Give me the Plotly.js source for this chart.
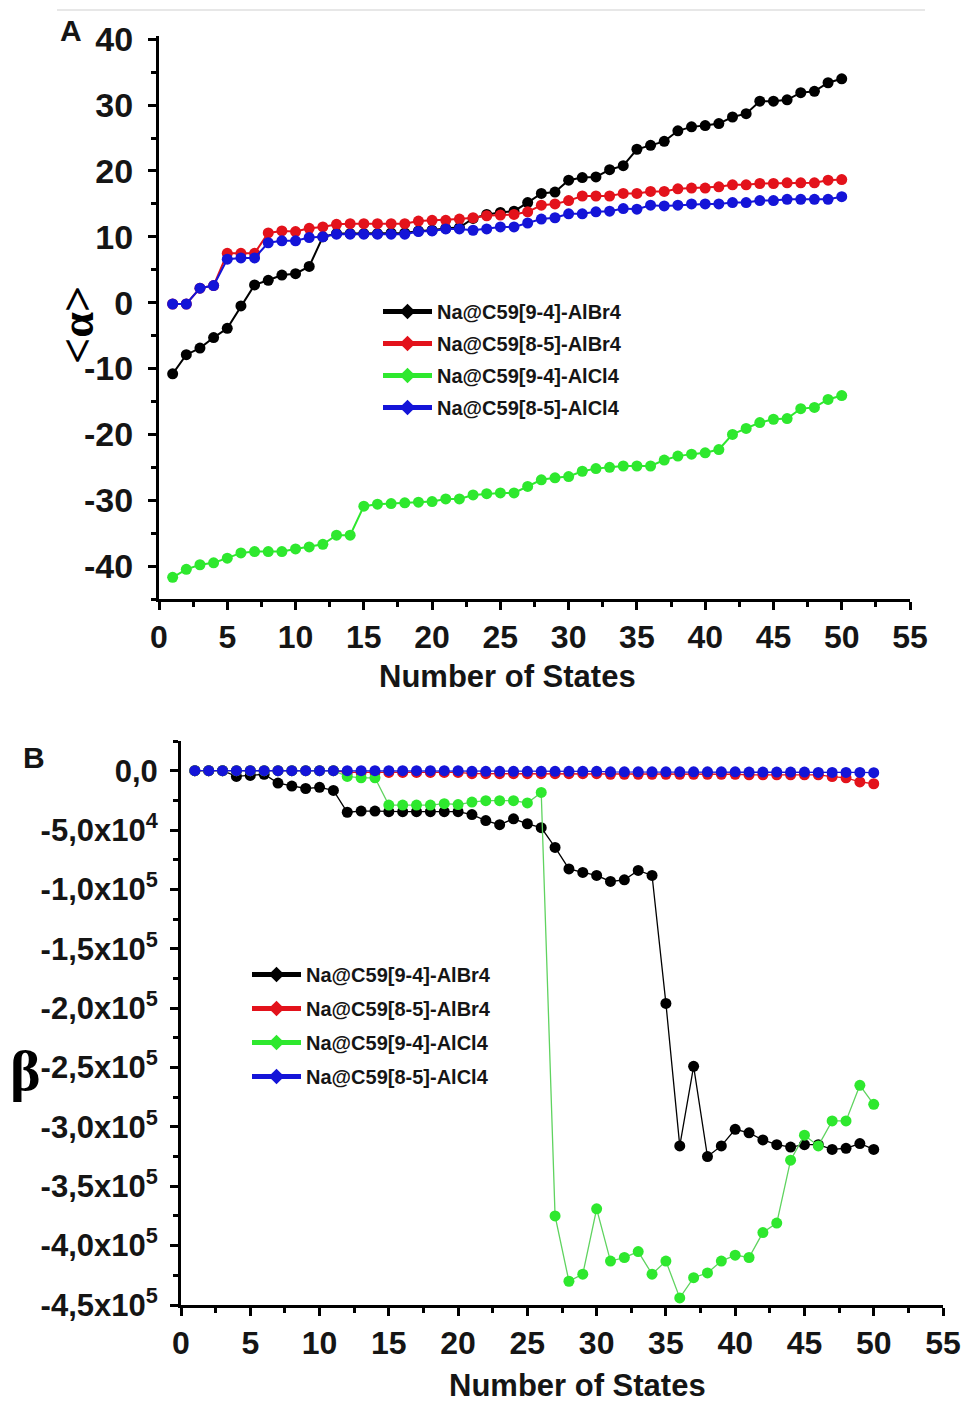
<!DOCTYPE html>
<html>
<head>
<meta charset="utf-8">
<script src="https://cdn.plot.ly/plotly-3.0.1.min.js"></script>
<style>html,body{margin:0;padding:0;background:#fff;}#chart{width:966px;height:1407px;}</style>
</head>
<body>
<div id="chart"></div>
<script>
// ---------- data ----------
const states = Array.from({length: 50}, (_, i) => i + 1);
const seriesNames = ["Na@C59[9-4]-AlBr4", "Na@C59[8-5]-AlBr4", "Na@C59[9-4]-AlCl4", "Na@C59[8-5]-AlCl4"];

// Panel A: <alpha>
const alphaBr94 = [-10.8,-7.9,-6.9,-5.3,-3.9,-0.5,2.7,3.4,4.2,4.4,5.5,10.0,10.5,10.5,10.5,10.5,10.6,10.6,10.9,11.0,11.3,11.4,12.8,13.4,13.7,13.9,15.2,16.6,16.8,18.6,19.0,19.1,20.2,20.8,23.3,23.9,24.5,26.1,26.7,26.9,27.2,28.2,28.7,30.6,30.6,30.8,31.9,32.1,33.4,34.0];
const alphaBr85 = [-0.2,-0.2,2.2,2.6,7.5,7.5,7.5,10.6,10.9,10.8,11.3,11.5,11.9,12.0,12.0,12.0,12.0,12.0,12.4,12.5,12.5,12.7,12.9,13.2,13.3,13.4,13.8,14.8,15.0,15.5,16.2,16.2,16.2,16.6,16.6,16.9,16.9,17.3,17.4,17.4,17.6,17.9,17.9,18.1,18.1,18.2,18.2,18.2,18.6,18.7];
const alphaCl94 = [-41.7,-40.5,-39.8,-39.5,-38.8,-38.0,-37.8,-37.8,-37.8,-37.4,-37.1,-36.7,-35.3,-35.3,-30.9,-30.6,-30.5,-30.4,-30.3,-30.2,-29.8,-29.8,-29.2,-29.0,-28.9,-28.9,-27.9,-26.9,-26.6,-26.4,-25.6,-25.2,-25.0,-24.8,-24.8,-24.8,-23.9,-23.3,-23.0,-22.8,-22.3,-20.0,-19.1,-18.2,-17.7,-17.6,-16.1,-15.9,-14.7,-14.1];
const alphaCl85 = [-0.2,-0.2,2.2,2.6,6.6,6.8,6.8,9.1,9.4,9.4,9.9,10.0,10.4,10.4,10.4,10.4,10.4,10.4,10.8,10.9,11.2,11.2,11.0,11.2,11.5,11.5,12.1,12.7,12.9,13.5,13.5,13.8,13.9,14.3,14.2,14.8,14.7,14.8,15.0,15.0,15.0,15.2,15.2,15.5,15.5,15.7,15.7,15.7,15.7,16.1];

// Panel B: beta
const betaBr94 = [0,0,0,-4800,-4000,-3000,-10400,-13000,-15000,-14000,-16600,-35000,-34000,-34000,-34500,-34500,-34500,-34500,-34500,-34500,-37000,-42000,-45500,-40500,-44700,-48000,-64600,-82700,-85700,-88200,-93300,-91900,-84000,-88200,-196000,-316000,-249000,-325000,-316000,-302000,-305000,-311000,-315000,-317000,-315000,-315000,-319000,-318000,-314000,-319000];
const betaBr85 = [0,0,0,0,0,0,0,0,0,0,0,-1500,-1500,-1500,-1500,-1500,-1500,-1500,-1500,-1500,-2500,-2500,-2500,-2500,-2500,-2500,-2500,-2500,-2500,-2500,-3000,-3000,-3000,-3000,-3000,-3000,-3000,-3000,-3000,-3000,-3500,-3500,-3500,-3500,-3500,-3500,-5000,-6000,-9500,-11000];
const betaCl94 = [0,0,0,0,0,0,0,0,0,0,0,-4800,-6000,-6000,-29000,-29000,-29000,-29000,-27800,-28500,-26400,-25300,-25300,-25300,-27200,-18300,-375000,-430000,-424000,-369000,-413000,-410000,-405000,-424000,-413000,-444000,-427000,-423000,-413000,-408000,-410000,-389000,-381000,-328000,-307000,-316000,-295000,-295000,-265000,-281000];
const betaCl85 = [0,0,0,0,0,0,0,0,0,0,0,0,0,0,0,0,0,0,0,0,-500,-500,-500,-500,-500,-500,-500,-500,-500,-500,-1000,-1000,-1000,-1000,-1000,-1000,-1000,-1000,-1000,-1000,-1200,-1200,-1200,-1200,-1200,-1500,-1500,-1500,-1500,-1700];

const xTickVals = [0,5,10,15,20,25,30,35,40,45,50,55];
const alphaTickVals = [40,30,20,10,0,-10,-20,-30,-40];
const alphaTickText = ["40","30","20","10","0","-10","-20","-30","-40"];
const betaTickVals = [0,-50000,-100000,-150000,-200000,-250000,-300000,-350000,-400000,-450000];
const betaTickText = ["0,0","-5,0x10<sup>4</sup>","-1,0x10<sup>5</sup>","-1,5x10<sup>5</sup>","-2,0x10<sup>5</sup>","-2,5x10<sup>5</sup>","-3,0x10<sup>5</sup>","-3,5x10<sup>5</sup>","-4,0x10<sup>5</sup>","-4,5x10<sup>5</sup>"];

// ---------- styling ----------
const colors = ["#000000", "#e3121b", "#2ee82e", "#1414d8"];
const SANS = "Liberation Sans, Arial, sans-serif";
const SERIF = "Liberation Serif, DejaVu Serif, Times New Roman, serif";
const W = 966, H = 1407;
const px = v => v / W;
const py = v => 1 - v / H;

const alphaSeries = [alphaBr94, alphaBr85, alphaCl94, alphaCl85];
const betaSeries = [betaBr94, betaBr85, betaCl94, betaCl85];

const traces = [];
alphaSeries.forEach((ys, i) => {
  traces.push({
    x: states, y: ys, type: "scatter", mode: "lines+markers",
    xaxis: "x", yaxis: "y", showlegend: false, name: seriesNames[i],
    line: {color: colors[i], width: 2},
    marker: {color: colors[i], size: 11, symbol: "circle"}
  });
});
betaSeries.forEach((ys, i) => {
  traces.push({
    x: states, y: ys, type: "scatter", mode: "lines+markers",
    xaxis: "x2", yaxis: "y2", showlegend: false, name: seriesNames[i],
    line: {color: (i === 2 ? "#5fd35f" : colors[i]), width: 1.3},
    marker: {color: colors[i], size: 11, symbol: "circle"}
  });
});
// legend entries (thick line + marker like the original legend)
seriesNames.forEach((n, i) => {
  traces.push({x: [null], y: [null], type: "scatter", mode: "lines+markers", xaxis: "x", yaxis: "y",
    name: n, legend: "legend", legendgroup: "a" + i, line: {color: colors[i], width: 5}, marker: {color: colors[i], size: 12, symbol: "diamond"}});
});
seriesNames.forEach((n, i) => {
  traces.push({x: [null], y: [null], type: "scatter", mode: "lines+markers", xaxis: "x2", yaxis: "y2",
    name: n, legend: "legend2", legendgroup: "b" + i, line: {color: colors[i], width: 5}, marker: {color: colors[i], size: 12, symbol: "diamond"}});
});

const axisCommon = {
  showgrid: false, zeroline: false, showline: true, linecolor: "#000", linewidth: 3,
  ticks: "outside", ticklen: 8, tickwidth: 3, tickcolor: "#000", mirror: false
};
const tickFont = sz => ({family: SANS, size: sz, weight: "bold", color: "#151515"});

const layout = {
  width: W, height: H,
  margin: {l: 0, r: 0, t: 0, b: 0},
  paper_bgcolor: "#fff", plot_bgcolor: "#fff",
  font: {family: SANS, color: "#151515", weight: "bold"},
  xaxis: Object.assign({}, axisCommon, {
    domain: [px(159), px(910)], range: [0, 55], anchor: "y",
    tickmode: "array", tickvals: xTickVals,
    minor: {tickmode: "linear", tick0: 0, dtick: 2.5, ticklen: 5, tickwidth: 3, tickcolor: "#000", ticks: "outside"},
    tickfont: tickFont(32), ticklabelstandoff: 0
  }),
  yaxis: Object.assign({}, axisCommon, {
    domain: [py(599), py(36)], range: [-45, 40.5], anchor: "x",
    tickmode: "array", tickvals: alphaTickVals, ticktext: alphaTickText,
    minor: {tickmode: "linear", tick0: 0, dtick: 5, ticklen: 5, tickwidth: 3, tickcolor: "#000", ticks: "outside"},
    tickfont: tickFont(34), ticklabelstandoff: 8
  }),
  xaxis2: Object.assign({}, axisCommon, {
    domain: [px(181), px(943)], range: [0, 55], anchor: "y2",
    tickmode: "array", tickvals: xTickVals,
    minor: {tickmode: "linear", tick0: 0, dtick: 2.5, ticklen: 5, tickwidth: 3, tickcolor: "#000", ticks: "outside"},
    tickfont: tickFont(32), ticklabelstandoff: 0
  }),
  yaxis2: Object.assign({}, axisCommon, {
    domain: [py(1305), py(741)], range: [-450000, 25000], anchor: "x2",
    tickmode: "array", tickvals: betaTickVals, ticktext: betaTickText,
    minor: {tickmode: "linear", tick0: 0, dtick: 25000, ticklen: 5, tickwidth: 3, tickcolor: "#000", ticks: "outside"},
    tickfont: tickFont(31), ticklabelstandoff: 6
  }),
  legend: {
    x: px(378), y: py(292), xanchor: "left", yanchor: "top",
    bgcolor: "rgba(0,0,0,0)", borderwidth: 0, itemwidth: 49,
    font: {family: SANS, size: 20, weight: "bold", color: "#151515"}, tracegroupgap: 3
  },
  legend2: {
    x: px(247), y: py(955), xanchor: "left", yanchor: "top",
    bgcolor: "rgba(0,0,0,0)", borderwidth: 0, itemwidth: 49,
    font: {family: SANS, size: 20, weight: "bold", color: "#151515"}, tracegroupgap: 5
  },
  shapes: [
    {type: "line", xref: "paper", yref: "paper", x0: px(57), x1: px(925), y0: py(10), y1: py(10), line: {color: "#cfcfcf", width: 1}}
  ],
  annotations: [
    {text: "A", xref: "paper", yref: "paper", x: px(71), y: py(31), showarrow: false, xanchor: "center", yanchor: "middle",
      font: {family: SANS, size: 30, weight: "bold", color: "#151515"}},
    {text: "B", xref: "paper", yref: "paper", x: px(34), y: py(758), showarrow: false, xanchor: "center", yanchor: "middle",
      font: {family: SANS, size: 30, weight: "bold", color: "#151515"}},
    {text: "&lt;α&gt;", xref: "paper", yref: "paper", x: px(77), y: py(325), showarrow: false, textangle: -90, xanchor: "center", yanchor: "middle",
      font: {family: SERIF, size: 46, weight: "bold", color: "#000"}},
    {text: "β", xref: "paper", yref: "paper", x: px(25), y: py(1070), showarrow: false, xanchor: "center", yanchor: "middle",
      font: {family: SERIF, size: 58, weight: "bold", color: "#000"}},
    {text: "Number of States", xref: "paper", yref: "paper", x: px(507), y: py(677), showarrow: false, xanchor: "center", yanchor: "middle",
      font: {family: SANS, size: 31, weight: "bold", color: "#151515"}},
    {text: "Number of States", xref: "paper", yref: "paper", x: px(577), y: py(1385), showarrow: false, xanchor: "center", yanchor: "middle",
      font: {family: SANS, size: 31, weight: "bold", color: "#151515"}}
  ]
};

Plotly.newPlot("chart", traces, layout, {displayModeBar: false, staticPlot: true});
</script>
</body>
</html>
